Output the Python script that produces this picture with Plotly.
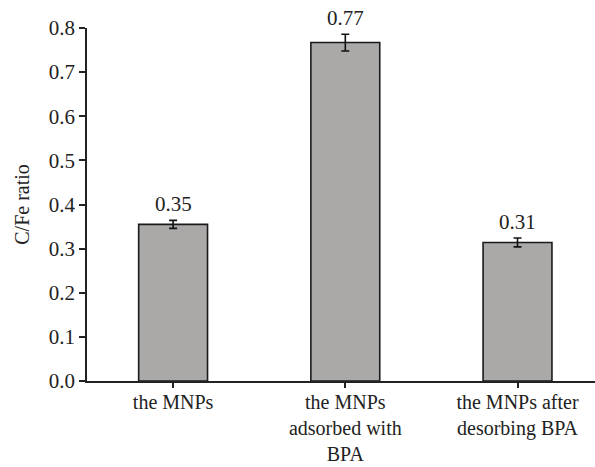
import plotly.graph_objects as go

categories = ["the MNPs", "the MNPs<br>adsorbed with<br>BPA", "the MNPs after<br>desorbing BPA"]
values = [0.355, 0.767, 0.314]
errors = [0.009, 0.019, 0.010]
labels = ["0.35", "0.77", "0.31"]
y_ticks = [0.0, 0.1, 0.2, 0.3, 0.4, 0.5, 0.6, 0.7, 0.8]

FONT = "Liberation Serif, Times New Roman, serif"

fig = go.Figure()
fig.add_trace(go.Bar(
    x=categories, y=values, width=0.4,
    marker=dict(color="#ABA8A8", line=dict(color="#1a1a1a", width=1.6)),
    error_y=dict(type="data", array=errors, visible=True, color="#111111",
                 thickness=1.6, width=4),
    showlegend=False,
))
for c, v, e, t in zip(categories, values, errors, labels):
    fig.add_annotation(x=c, y=v + e, text=t, showarrow=False, yanchor="bottom",
                       yshift=2, font=dict(family=FONT, size=21, color="#222"))

fig.update_layout(
    width=595, height=467,
    margin=dict(l=87, r=0, t=28, b=86, autoexpand=False),
    paper_bgcolor="white", plot_bgcolor="white",
    font=dict(family=FONT, size=21, color="#222"),
    bargap=0.6,
)
fig.update_xaxes(
    range=[-0.5, 2.45], showline=True, linecolor="#222", linewidth=1.8,
    ticks="outside", ticklen=5, tickwidth=1.5, tickcolor="#222",
    showgrid=False, automargin=False, ticklabelstandoff=-3,
    tickfont=dict(family=FONT, size=20, color="#222"),
)
fig.update_yaxes(
    range=[0, 0.8], tickvals=y_ticks, tickformat=".1f",
    showline=True, linecolor="#222", linewidth=1.8,
    ticks="outside", ticklen=6, tickwidth=1.5, tickcolor="#222",
    showgrid=False, zeroline=False, automargin=False,
    tickfont=dict(family=FONT, size=21, color="#222"),
    title=dict(text="C/Fe ratio", font=dict(family=FONT, size=20, color="#222"), standoff=14),
)
fig.write_html("out.html")
